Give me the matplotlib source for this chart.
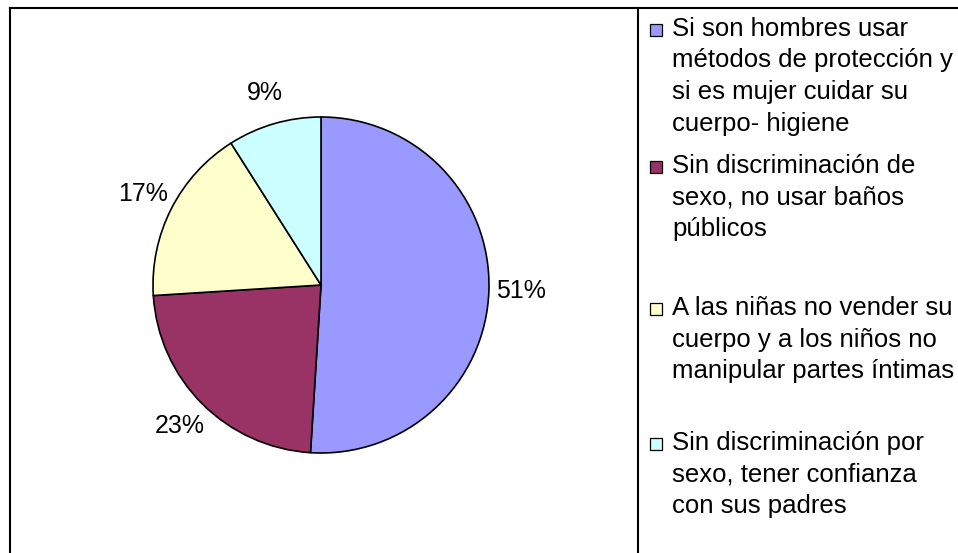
import matplotlib
matplotlib.use('Agg')
import matplotlib.pyplot as plt
from matplotlib.lines import Line2D
from matplotlib.patches import Rectangle

plt.rcParams['font.family'] = ['Liberation Sans', 'DejaVu Sans']

# data
categories = [
    ['Si son hombres usar', 'métodos de protección y', 'si es mujer cuidar su', 'cuerpo- higiene'],
    ['Sin discriminación de', 'sexo, no usar baños', 'públicos'],
    ['A las niñas no vender su', 'cuerpo y a los niños no', 'manipular partes íntimas'],
    ['Sin discriminación por', 'sexo, tener confianza', 'con sus padres'],
]
values = [51, 23, 17, 9]
colors = ['#9999FF', '#993366', '#FFFFCC', '#CCFFFF']

# layout (pixels)
W, H = 958, 553
cx, cy, R = 321, 285, 168
legend_x = 638
legend_tops = [36, 173, 315, 450]
line_step = 31.5


def fx(x):
    return x / W


def fy(y):
    return 1 - y / H


fig = plt.figure(figsize=(W / 100, H / 100), dpi=100)
fig.patch.set_facecolor('white')

ax = fig.add_axes([fx(10), 0, (legend_x - 10) / W, (H - 8) / H])
ax.axis('off')

wedges, texts, autotexts = ax.pie(values,
                                  colors=colors,
                                  startangle=90,
                                  counterclock=False,
                                  radius=1,
                                  autopct='%1.0f%%',
                                  pctdistance=1.19,
                                  wedgeprops=dict(edgecolor='black', linewidth=1.2),
                                  textprops=dict(fontsize=18, color='black'))
ax.set_xlim((10 - cx) / R, (legend_x - cx) / R)
ax.set_ylim(-(H - cy) / R, (cy - 8) / R)

# borders
lw = 1.5
fig.add_artist(Line2D([fx(10), 1], [fy(8), fy(8)], color='black', lw=lw))
fig.add_artist(Line2D([fx(10), fx(10)], [fy(8), 0], color='black', lw=lw))
fig.add_artist(Line2D([fx(legend_x), fx(legend_x)], [fy(8), 0], color='black', lw=lw))

# legend
for lines, top, col in zip(categories, legend_tops, colors):
    fig.add_artist(Rectangle((fx(650), fy(top)), 12 / W, 12 / H,
                             facecolor=col, edgecolor='black', lw=0.9))
    for i, line in enumerate(lines):
        fig.text(fx(672), fy(top + i * line_step), line,
                 fontsize=18.5, ha='left', va='baseline')

fig.savefig('out.png', dpi=100)
